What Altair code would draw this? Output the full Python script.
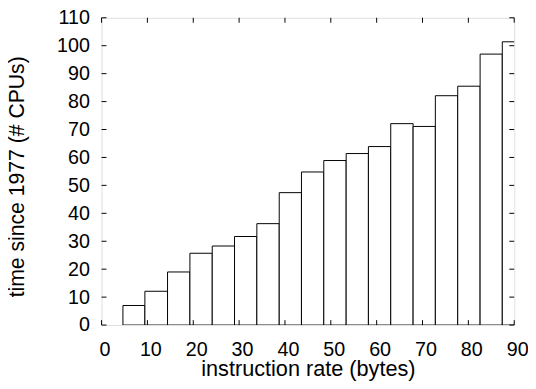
import altair as alt
import pandas as pd

# bin edges (x, bytes) and heights
bin_left = [4.66, 9.45, 14.39, 19.27, 24.14, 29.0, 33.87, 38.75, 43.6, 48.47,
            53.35, 58.2, 63.07, 67.95, 72.8, 77.68, 82.56, 87.4]
bin_right = [9.45, 14.39, 19.27, 24.14, 29.0, 33.87, 38.75, 43.6, 48.47, 53.35,
             58.2, 63.07, 67.95, 72.8, 77.68, 82.56, 87.4, 92.3]
heights = [7.0, 12.1, 19.0, 25.7, 28.3, 31.7, 36.3, 47.4, 54.8, 58.9,
           61.4, 63.9, 72.1, 71.1, 82.1, 85.5, 97.0, 101.4]
x_ticks = [0, 10, 20, 30, 40, 50, 60, 70, 80, 90]
y_ticks = [0, 10, 20, 30, 40, 50, 60, 70, 80, 90, 100, 110]

W, H = 419, 312
FONT = "Liberation Sans"

bars = pd.DataFrame({"x0": bin_left, "x1": bin_right, "v": heights})
xt = pd.DataFrame({"x0": x_ticks})
yt = pd.DataFrame({"v": y_ticks})

xscale = alt.Scale(domain=[0, 90], nice=False, zero=False)
yscale = alt.Scale(domain=[0, 110], nice=False)

xaxis = alt.Axis(
    values=x_ticks, title="instruction rate (bytes)", ticks=False, tickSize=0,
    domain=False, grid=False, labelFontSize=20, labelFont=FONT, labelColor="black",
    labelPadding=14.5, labelOffset=3, titleFont=FONT, titleFontSize=22,
    titleFontWeight="normal", titleColor="black", titleY=34, titleBaseline="top",
    labelFlush=False)
yaxis = alt.Axis(
    values=y_ticks, title="time since 1977 (# CPUs)", ticks=False, tickSize=0,
    domain=False, grid=False, labelFontSize=20, labelFont=FONT, labelColor="black",
    labelPadding=12.3, titleFont=FONT, titleFontSize=21.5,
    titleFontWeight="normal", titleColor="black", titleX=-74, titleY=161,
    labelFlush=False)

bar_layer = alt.Chart(bars).mark_bar(
    fill="white", stroke="black", strokeWidth=1, clip=True
).encode(
    x=alt.X("x0:Q", scale=xscale, axis=xaxis),
    x2="x1:Q",
    y=alt.Y("v:Q", scale=yscale, axis=yaxis),
    y2=alt.datum(0),
)

TL = 5
left_ticks = alt.Chart(yt).mark_rule(color="black", strokeWidth=1).encode(
    y=alt.Y("v:Q", scale=yscale, axis=yaxis), x=alt.value(0), x2=alt.value(TL))
right_ticks = alt.Chart(yt).mark_rule(color="black", strokeWidth=1).encode(
    y=alt.Y("v:Q", scale=yscale, axis=yaxis), x=alt.value(W - TL), x2=alt.value(W))
bottom_ticks = alt.Chart(xt).mark_rule(color="black", strokeWidth=1).encode(
    x=alt.X("x0:Q", scale=xscale, axis=xaxis), y=alt.value(H - TL), y2=alt.value(H))
top_ticks = alt.Chart(xt).mark_rule(color="black", strokeWidth=1).encode(
    x=alt.X("x0:Q", scale=xscale, axis=xaxis), y=alt.value(0), y2=alt.value(TL))

chart = alt.layer(bar_layer, left_ticks, right_ticks, bottom_ticks, top_ticks).properties(
    width=W, height=H,
    autosize=alt.AutoSizeParams(type="none"),
    padding={"left": 95, "top": 7, "right": 14, "bottom": 62},
).configure_view(stroke="black", strokeWidth=1).configure(background="white")

chart.save("out.html", embed_options={"renderer": "svg", "actions": False})
